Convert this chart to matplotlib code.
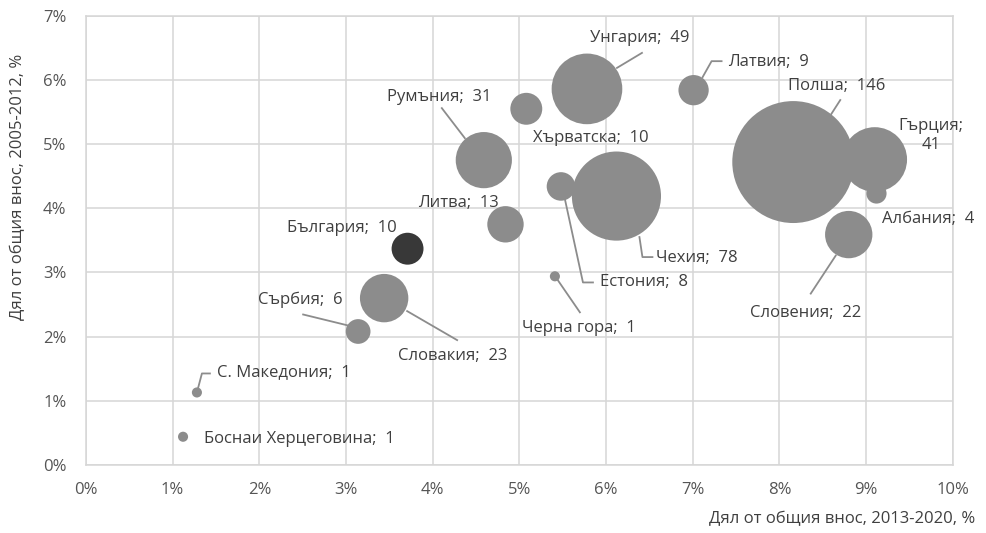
import numpy as np
import matplotlib.pyplot as plt
from matplotlib.lines import Line2D
from matplotlib.ticker import PercentFormatter

plt.rcParams['font.family'] = ['Open Sans', 'DejaVu Sans']

# Share of total imports (%), bubble size = value shown in label
countries = ['Унгария', 'Хърватска', 'Румъния', 'Естония', 'Чехия', 'Литва',
             'България', 'Латвия', 'Полша', 'Гърция', 'Албания', 'Словения',
             'Словакия', 'Сърбия', 'Черна гора', 'С. Македония', 'Боснаи Херцеговина']
share_2013_2020 = [5.78, 5.08, 4.59, 5.48, 6.12, 4.84, 3.71, 7.01, 8.16, 9.10,
                   9.12, 8.80, 3.44, 3.14, 5.41, 1.28, 1.12]
share_2005_2012 = [5.86, 5.55, 4.75, 4.34, 4.19, 3.75, 3.37, 5.84, 4.72, 4.76,
                   4.23, 3.59, 2.60, 2.08, 2.94, 1.13, 0.44]
values = [49, 10, 31, 8, 78, 13, 10, 9, 146, 41, 4, 22, 23, 6, 1, 1, 1]

x_ticks = list(range(0, 11))
y_ticks = list(range(0, 8))

# label placement in pixels relative to bubble centre (dx, dy, ha), leader polylines
label_pos = {
    'Унгария': (3, 51, 'left'), 'Хърватска': (7, -29, 'left'), 'Румъния': (-97, 63, 'left'),
    'Естония': (39, -96, 'left'), 'Чехия': (40, -62, 'left'), 'Литва': (-87, 21, 'left'),
    'България': (-121, 21, 'left'), 'Латвия': (34, 28, 'left'), 'Полша': (-5, 76, 'left'),
    'Гърция': (56, 24, 'center'), 'Албания': (6, -25, 'left'), 'Словения': (-99, -78, 'left'),
    'Словакия': (14, -58, 'left'), 'Сърбия': (-100, 32, 'left'), 'Черна гора': (-33, -52, 'left'),
    'С. Македония': (20, 20, 'left'), 'Боснаи Херцеговина': (21, -2, 'left'),
}
leaders = {
    'Унгария': [(55, 36), (30, 21)],
    'Румъния': [(-42, 52), (-19, 22)],
    'Естония': [(4, -13), (22, -96), (32, -96)],
    'Чехия': [(23, -41), (26, -61), (36, -61)],
    'Латвия': [(9, 13), (18, 29), (28, 29)],
    'Полша': [(47, 62), (38, 48)],
    'Словения': [(-38, -59), (-13, -21)],
    'Словакия': [(23, -13), (73, -42)],
    'Сърбия': [(-55, 17), (-10, 6)],
    'Черна гора': [(3, -4), (25, -36)],
    'С. Македония': [(0, 0), (5, 19), (13, 19)],
}

bubble_color = '#8c8c8c'
highlight_color = '#383838'
text_color = '#3f3f3f'
grid_color = '#d6d6d6'
fs = 12

fig = plt.figure(figsize=(9.87, 5.33), dpi=100)
ax = fig.add_axes([0.0871, 0.1276, 0.9653 - 0.0871, 0.9705 - 0.1276])

colors = [highlight_color if c == 'България' else bubble_color for c in countries]
sizes = np.array(values) * 52.8
order = np.argsort(values)[::-1]
ax.scatter(np.array(share_2013_2020)[order], np.array(share_2005_2012)[order],
           s=sizes[order], c=np.array(colors)[order], linewidths=0, zorder=3)

ax.set_xlim(0, 10)
ax.set_ylim(0, 7)
ax.set_xticks(x_ticks)
ax.set_yticks(y_ticks)
ax.xaxis.set_major_formatter(PercentFormatter(decimals=0))
ax.yaxis.set_major_formatter(PercentFormatter(decimals=0))
ax.tick_params(length=0, labelsize=fs, colors='#555555')
ax.tick_params(axis='x', pad=12)
ax.tick_params(axis='y', pad=14)
ax.grid(True, color=grid_color, linewidth=1.1, zorder=0)
for sp in ax.spines.values():
    sp.set_color(grid_color)
    sp.set_linewidth(1.1)

fig.text(0.9878, 1 - 519 / 533, 'Дял от общия внос, 2013-2020, %', ha='right', va='center',
         fontsize=fs, color=text_color)
fig.text(18 / 987, 1 - 187 / 533, 'Дял от общия внос, 2005-2012, %', ha='center', va='center',
         rotation=90, fontsize=fs, color=text_color)

fig.canvas.draw()
for name, xv, yv, v in zip(countries, share_2013_2020, share_2005_2012, values):
    px, py = ax.transData.transform((xv, yv))
    dx, dy, ha = label_pos[name]
    if name == 'Гърция':
        txt = 'Гърция;\n' + str(v)
    else:
        txt = f'{name};  {v}'
    fig.text((px + dx) / 987, (py + dy) / 533, txt, ha=ha, va='center', fontsize=fs,
             color=text_color, multialignment='center', linespacing=1.3)
    if name in leaders:
        pts = leaders[name]
        fig.add_artist(Line2D([(px + a) / 987 for a, b in pts], [(py + b) / 533 for a, b in pts],
                              color='#8c8c8c', linewidth=1.3, transform=fig.transFigure))

fig.savefig('out.png', dpi=100)
